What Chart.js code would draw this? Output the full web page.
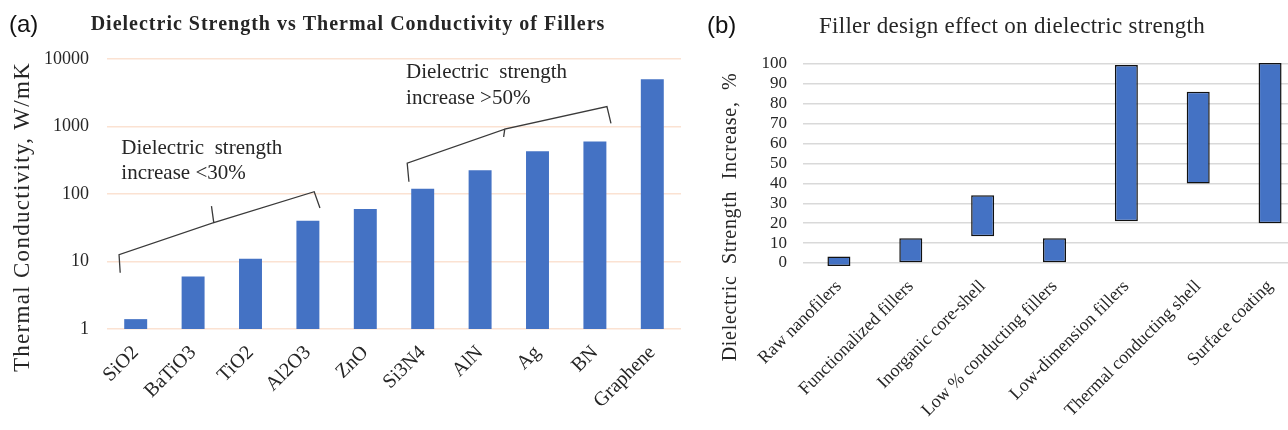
<!DOCTYPE html>
<html>
<head>
<meta charset="utf-8">
<script src="https://cdn.jsdelivr.net/npm/chart.js@4.4.1/dist/chart.umd.min.js"></script>
<style>
  html, body { margin: 0; padding: 0; background: #fff; overflow: hidden; }
  #chartA { position: absolute; left: 0; top: 0; }
  #chartB { position: absolute; left: 700px; top: 0; }
</style>
</head>
<body>
<canvas id="chartA" width="700" height="430"></canvas>
<canvas id="chartB" width="620" height="430"></canvas>
<script>
// ---- panel (a): thermal conductivity of fillers (log scale) ----
const fillers = ['SiO2', 'BaTiO3', 'TiO2', 'Al2O3', 'ZnO', 'Si3N4', 'AlN', 'Ag', 'BN', 'Graphene'];
const conductivity = [1.4, 6, 11, 40, 60, 120, 225, 430, 600, 5000];
const logTicks = [1, 10, 100, 1000, 10000];

// ---- panel (b): dielectric strength increase ranges ----
const designs = ['Raw nanofilers', 'Functionalized fillers', 'Inorganic core-shell',
  'Low % conducting fillers', 'Low-dimension fillers', 'Thermal conducting shell', 'Surface coating'];
const strengthLow = [-1.5, 0, 13.5, 0, 21, 40, 20];
const strengthHigh = [3.3, 12.5, 34, 12.5, 99.5, 86, 100.5];
const pctTicks = [0, 10, 20, 30, 40, 50, 60, 70, 80, 90, 100];

const BAR_BLUE = '#4472c4';
const TEXT = '#262626';
const SERIF = '"Liberation Serif", "Times New Roman", serif';
const SANS = '"Liberation Sans", Arial, sans-serif';

// draws a bracket whose points are given as [category index, value]
function drawBrace(chart, pts) {
  const { ctx } = chart;
  const x = chart.scales.x, y = chart.scales.y;
  const step = x.getPixelForValue(1) - x.getPixelForValue(0);
  ctx.save();
  ctx.strokeStyle = '#3a3a3a';
  ctx.lineWidth = 1.3;
  ctx.beginPath();
  pts.forEach(([i, v], k) => {
    const px = x.getPixelForValue(0) + i * step;
    const py = y.getPixelForValue(v);
    k === 0 ? ctx.moveTo(px, py) : ctx.lineTo(px, py);
  });
  ctx.stroke();
  ctx.restore();
}

function drawNote(chart, i, v, lines, lineGap) {
  const { ctx } = chart;
  const x = chart.scales.x, y = chart.scales.y;
  const step = x.getPixelForValue(1) - x.getPixelForValue(0);
  const px = x.getPixelForValue(0) + i * step;
  const py = y.getPixelForValue(v);
  ctx.save();
  ctx.font = '21px ' + SERIF;
  ctx.fillStyle = TEXT;
  ctx.textAlign = 'left';
  ctx.textBaseline = 'middle';
  lines.forEach((t, k) => ctx.fillText(t, px, py + k * lineGap));
  ctx.restore();
}

function drawLabels(chart, o) {
  const { ctx } = chart;
  ctx.save();
  ctx.textBaseline = 'middle';
  ctx.font = '24px ' + SANS;
  ctx.textAlign = 'left';
  ctx.fillStyle = '#111';
  ctx.fillText(o.tag, o.tagX, o.tagY);
  ctx.fillStyle = TEXT;
  ctx.font = o.titleFont;
  ctx.letterSpacing = o.titleSpacing;
  ctx.textAlign = 'center';
  ctx.fillText(o.title, o.titleX, o.titleY);
  ctx.translate(o.axisX, o.axisY);
  ctx.rotate(-Math.PI / 2);
  ctx.font = o.axisFont;
  ctx.letterSpacing = o.axisSpacing;
  ctx.fillText(o.axisTitle, 0, 0);
  ctx.restore();
}

const decorA = {
  id: 'decorA',
  afterDraw(chart) {
    drawLabels(chart, {
      tag: '(a)', tagX: 9, tagY: 25,
      title: 'Dielectric Strength vs Thermal Conductivity of Fillers',
      titleFont: 'bold 20px ' + SERIF, titleSpacing: '1px', titleX: 348, titleY: 25,
      axisTitle: 'Thermal Conductivity, W/mK', axisFont: '23px ' + SERIF, axisSpacing: '1.3px',
      axisX: 23, axisY: 217
    });
    drawBrace(chart, [[-0.27, 6.8], [-0.29, 12.6], [1.36, 37.7], [1.32, 66], [1.36, 37.7], [3.11, 108], [3.21, 62]]);
    drawBrace(chart, [[4.76, 152], [4.73, 286], [6.43, 915], [6.41, 700], [6.43, 915], [8.21, 1977], [8.28, 1115]]);
    drawNote(chart, -0.25, 480, ['Dielectric  strength', 'increase <30%'], 25);
    drawNote(chart, 4.71, 6250, ['Dielectric  strength', 'increase >50%'], 26);
  }
};

const decorB = {
  id: 'decorB',
  afterDraw(chart) {
    drawLabels(chart, {
      tag: '(b)', tagX: 7, tagY: 26,
      title: 'Filler design effect on dielectric strength',
      titleFont: '23px ' + SERIF, titleSpacing: '0.3px', titleX: 312, titleY: 27,
      axisTitle: 'Dielectric  Strength  Increase,  %', axisFont: '20px ' + SERIF, axisSpacing: '0.7px',
      axisX: 31, axisY: 217
    });
  }
};

new Chart(document.getElementById('chartA'), {
  type: 'bar',
  data: {
    labels: fillers,
    datasets: [{
      data: conductivity,
      backgroundColor: BAR_BLUE,
      borderWidth: 0,
      categoryPercentage: 1,
      barPercentage: 0.4
    }]
  },
  options: {
    responsive: false,
    animation: false,
    layout: { padding: { top: 59, right: 19, left: 0, bottom: 0 } },
    plugins: { legend: { display: false }, tooltip: { enabled: false } },
    scales: {
      x: {
        grid: { display: false },
        border: { display: false },
        ticks: { color: TEXT, font: { family: SERIF, size: 20 }, maxRotation: 45, minRotation: 45, padding: 4 },
        afterFit: (s) => { s.height = 101; }
      },
      y: {
        type: 'logarithmic',
        min: 1,
        max: 10000,
        border: { display: false },
        grid: { color: '#fbe2d2', lineWidth: 1.5, drawTicks: false },
        afterBuildTicks: (s) => { s.ticks = logTicks.map((v) => ({ value: v })); },
        ticks: { color: TEXT, font: { family: SERIF, size: 18 }, padding: 18, callback: (v) => String(v) },
        afterFit: (s) => { s.width = 107; }
      }
    }
  },
  plugins: [decorA]
});

new Chart(document.getElementById('chartB'), {
  type: 'bar',
  data: {
    labels: designs,
    datasets: [{
      data: strengthLow.map((lo, i) => [lo, strengthHigh[i]]),
      backgroundColor: BAR_BLUE,
      borderColor: '#111',
      borderWidth: 1.5,
      borderSkipped: false,
      categoryPercentage: 1,
      barPercentage: 0.32,
      clip: false
    }]
  },
  options: {
    responsive: false,
    animation: false,
    layout: { padding: { top: 64, right: 14, left: 0, bottom: 0 } },
    plugins: { legend: { display: false }, tooltip: { enabled: false } },
    scales: {
      x: {
        grid: { display: false },
        border: { display: false },
        ticks: { color: TEXT, font: { family: SERIF, size: 18 }, maxRotation: 45, minRotation: 45, padding: 5 },
        afterFit: (s) => { s.height = 167; }
      },
      y: {
        min: 0,
        max: 100,
        border: { display: false },
        grid: { color: '#d9d9d9', lineWidth: 1.5, drawTicks: false },
        afterBuildTicks: (s) => { s.ticks = pctTicks.map((v) => ({ value: v })); },
        ticks: { color: TEXT, font: { family: SERIF, size: 17 }, padding: 16, autoSkip: false },
        afterFit: (s) => { s.width = 103; }
      }
    }
  },
  plugins: [decorB]
});
</script>
</body>
</html>
